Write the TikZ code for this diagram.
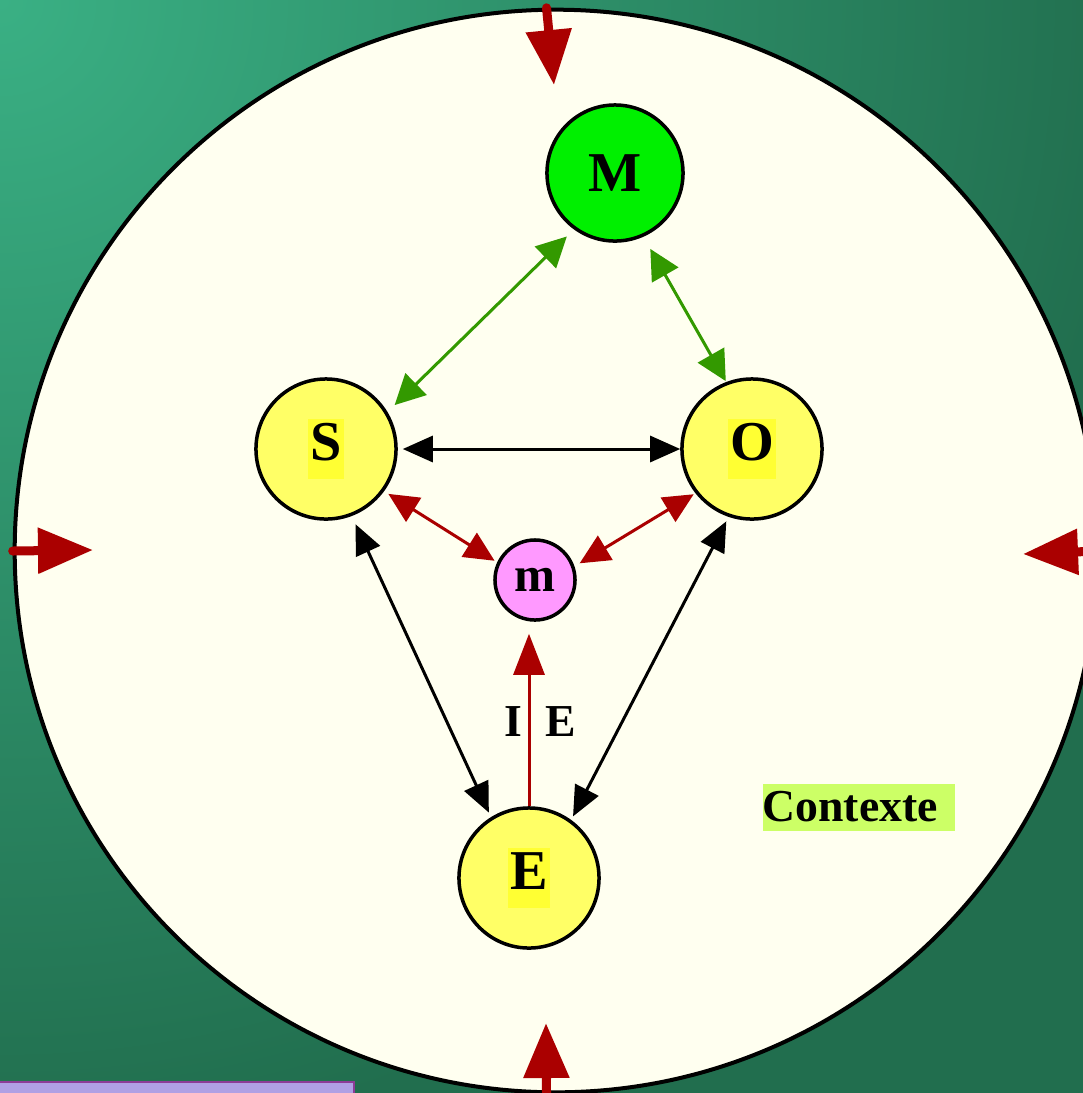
\documentclass[tikz,border=0pt]{standalone}
\usepackage{fontspec}
\setmainfont{Liberation Serif}
\usetikzlibrary{arrows.meta}
\definecolor{bglight}{RGB}{58,176,132}
\definecolor{bgdark}{RGB}{33,110,78}
\definecolor{ctxivory}{RGB}{255,255,240}
\definecolor{arrred}{RGB}{170,0,0}
\definecolor{arrgreen}{RGB}{51,153,0}
\definecolor{ballyellow}{RGB}{255,255,102}
\definecolor{hlyellow}{RGB}{255,255,51}
\definecolor{ballgreen}{RGB}{0,240,0}
\definecolor{ballpink}{RGB}{255,153,255}
\definecolor{ctxlime}{RGB}{204,255,102}
\definecolor{barlilac}{RGB}{176,160,228}
\definecolor{barpurple}{RGB}{140,60,150}

\newcommand{\hlletter}[1]{{\setlength{\fboxsep}{0.6pt}\colorbox{hlyellow}{\strut #1}}}

\begin{document}
\begin{tikzpicture}[x=0.01cm, y=-0.01cm,
  ball/.style={circle, draw=black, line width=0.035cm, inner sep=0pt, minimum size=1.4cm,
    font=\fontsize{16}{16}\selectfont\bfseries},
  greenmsg/.style={{Triangle[length=3mm,width=3mm]}-{Triangle[length=3mm,width=3mm]}, line width=0.03cm, arrgreen},
  blackmsg/.style={{Triangle[length=3mm,width=2.6mm]}-{Triangle[length=3mm,width=2.6mm]}, line width=0.03cm, black},
  redmsg/.style={{Triangle[length=3mm,width=2.8mm]}-{Triangle[length=3mm,width=2.8mm]}, line width=0.03cm, arrred},
  redone/.style={-{Triangle[length=4.1mm,width=3.1mm]}, line width=0.03cm, arrred},
  outarr/.style={-{Triangle[length=5.5mm,width=4.4mm]}, line width=0.09cm, line cap=round, arrred},
  lbl/.style={font=\fontsize{13}{13}\selectfont\bfseries, inner sep=0pt}
]
\clip (0,0) rectangle (1083,1093);
\fill[bgdark] (0,0) rectangle (1083,1093);
\shade[inner color=bglight, outer color=bgdark] (0,0) circle (1150);
\draw[draw=barpurple, fill=barlilac, line width=0.02cm] (-10,1082) rectangle (354,1110);

% context circle
\node[circle, draw=black, fill=ctxivory, line width=0.04cm, inner sep=0pt, minimum size=10.82cm] (ctx) at (556,551) {};

\node[ball, fill=ballgreen, minimum size=1.36cm] (M) at (615,173) {M};
\node[ball, fill=ballyellow] (S) at (326,449) {\hlletter{S}};
\node[ball, fill=ballyellow] (O) at (752,449) {\hlletter{O}};
\node[ball, fill=ballyellow] (E) at (529,878) {\hlletter{E}};
\node[ball, fill=ballpink, minimum size=0.8cm, font=\fontsize{14}{14}\selectfont\bfseries] (m) at (535,580) {m};

\node[lbl] (lblI) at (513,722) {I};
\node[lbl] (lblE) at (561,722) {E};
\node[lbl, fill=ctxlime, anchor=west, text width=1.92cm, align=left, minimum height=0.47cm] (ctxname) at (762,807) {Contexte};

\coordinate (inN) at (554,85);
\coordinate (inW) at (93,550);
\coordinate (inE) at (1023,554);
\coordinate (inS) at (546,1023);

\draw[greenmsg, shorten <=1mm, shorten >=1mm] (S.31) -- (M.234);
\draw[greenmsg, shorten <=1.4mm, shorten >=0.1mm] (M.294) -- (O.111);
\draw[blackmsg, shorten <=0.5mm] (S.east) -- (O.west);
\draw[redmsg, shorten <=0.5mm, shorten >=0.3mm] (S.-36) -- (m.155);
\draw[redmsg, shorten <=0.2mm, shorten >=0.6mm] (O.218) -- (m.19);
\draw[blackmsg, shorten <=0.9mm, shorten >=0.5mm] (S.291) -- (E.122);
\draw[blackmsg, shorten <=0.5mm, shorten >=0.4mm] (O.251) -- (E.54);
\draw[redone, shorten >=1.2mm] (E.north) -- (E.north |- m.south);

\draw[outarr] (ctx.91) -- (inN);
\draw[outarr] (ctx.west) -- (inW);
\draw[outarr] (ctx.east) -- (inE);
\draw[outarr] (ctx.269) -- (inS);
\end{tikzpicture}
\end{document}
